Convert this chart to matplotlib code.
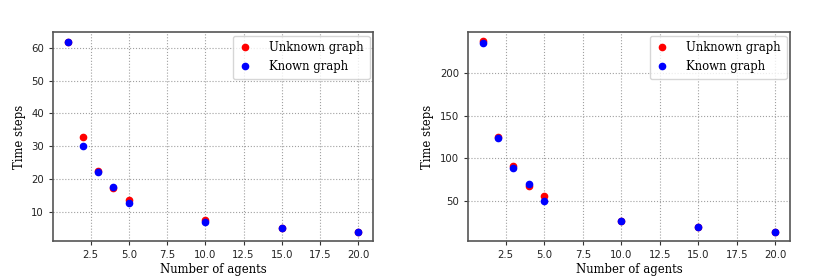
import numpy as np
import matplotlib.pyplot as plt

agents = [1, 2, 3, 4, 5, 10, 15, 20]

# left panel
unknown_small = [62.0, 32.7, 22.4, 17.3, 13.5, 7.4, 4.9, 3.9]
known_small = [62.0, 30.0, 22.0, 17.6, 12.6, 6.8, 4.9, 3.9]

# right panel
unknown_large = [237.1, 125.4, 90.6, 67.6, 55.5, 25.8, 18.6, 13.7]
known_large = [234.8, 123.4, 88.7, 69.1, 49.2, 25.8, 18.8, 13.7]

fig = plt.figure(figsize=(8.3, 2.77), dpi=100)
ax1 = fig.add_axes([53 / 830, 1 - 241 / 277, 320 / 830, 209 / 277])
ax2 = fig.add_axes([468 / 830, 1 - 241 / 277, 322 / 830, 209 / 277])

for ax, unk, kn in [(ax1, unknown_small, known_small), (ax2, unknown_large, known_large)]:
    ax.plot(agents, unk, 'o', color='red', markersize=4.5, label='Unknown graph')
    ax.plot(agents, kn, 'o', color='blue', markersize=4.5, label='Known graph')
    ax.grid(True, linestyle=':', color='#a0a0a0', linewidth=0.8)
    ax.set_axisbelow(True)
    for s in ax.spines.values():
        s.set_color('#555555')
        s.set_linewidth(1.2)
    ax.tick_params(labelsize=7.3, length=3, color='#333333', labelcolor='#222222')
    ax.set_xlabel('Number of agents', family='DejaVu Serif', fontsize=8.4, labelpad=2)
    ax.set_ylabel('Time steps', family='DejaVu Serif', fontsize=8.4)
    ax.legend(loc='upper right', prop={'family': 'DejaVu Serif', 'size': 8.4},
              handlelength=1.0, handletextpad=1.6, borderpad=0.5,
              labelspacing=0.5, borderaxespad=0.3)

fig.savefig('out.png', dpi=100)
